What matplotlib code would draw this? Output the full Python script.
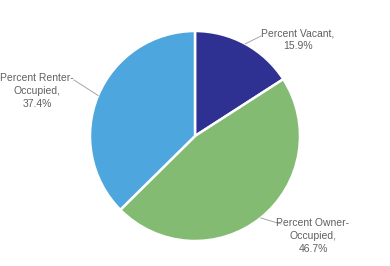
import numpy as np
import matplotlib
matplotlib.use('Agg')
import matplotlib.pyplot as plt

labels = ['Percent Vacant,\n15.9%', 'Percent Owner-\nOccupied,\n46.7%', 'Percent Renter-\nOccupied,\n37.4%']
values = [15.9, 46.7, 37.4]
colors = ['#2e3192', '#84bb72', '#4ea6de']

# label centres and leader-line elbows, in pixels from bottom-left
label_pos = [(298, 226), (313, 30), (37, 175)]
elbow_pos = [(261, 230), (281, 42), (74, 186)]

plt.rcParams['font.family'] = ['Liberation Sans', 'DejaVu Sans']

fig = plt.figure(figsize=(3.9, 2.66), dpi=100)
ax = fig.add_axes([0, 0, 1, 1])

cx, cy, r = 195, 130, 105
wedges, _ = ax.pie(values, colors=colors, startangle=90, counterclock=False,
                   center=(cx, cy), radius=r, frame=True,
                   wedgeprops=dict(edgecolor='white', linewidth=1.8))
ax.set_xlim(0, 390)
ax.set_ylim(0, 266)
ax.set_aspect('equal')
ax.axis('off')

for w, lab, lp, ep in zip(wedges, labels, label_pos, elbow_pos):
    ang = np.deg2rad((w.theta1 + w.theta2) / 2)
    ex, ey = cx + r * np.cos(ang), cy + r * np.sin(ang)
    ax.plot([ex, ep[0]], [ey, ep[1]], color='#a6a6a6', lw=0.7)
    ax.text(lp[0], lp[1], lab, ha='center', va='center', fontsize=7.5,
            color='#606060', linespacing=1.35)

fig.savefig('out.png', dpi=100)
